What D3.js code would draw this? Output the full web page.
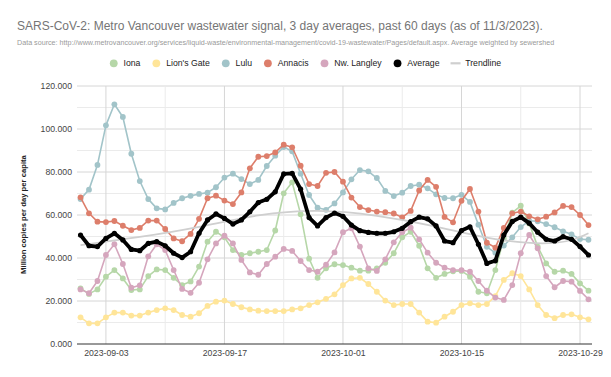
<!DOCTYPE html>
<html>
<head>
<meta charset="utf-8">
<script src="https://cdn.jsdelivr.net/npm/d3@7"></script>
<style>
  body { margin: 0; background: #fff; }
  text { font-family: "Liberation Sans", Arial, sans-serif; }
</style>
</head>
<body>
<div id="container"></div>
<script>
let w = 611;
let h = 377;

// data, one value per day from 2023-08-31 to 2023-10-30
let firstDay = "2023-08-31";
let lastDay = "2023-10-30";

let iona = [25.9, 23.3, 25.4, 31.3, 34.4, 30.5, 25.1, 25.4, 31.6, 34.7, 34.4, 30.8, 27.4, 29.1, 36.0,
  47.6, 52.2, 49.6, 43.7, 41.4, 42.2, 42.9, 43.7, 52.8, 70.1, 75.2, 60.4, 39.7, 30.8, 35.2, 37.1,
  36.7, 35.5, 34.1, 34.1, 35.2, 37.8, 42.2, 49.6, 52.2, 45.7, 35.2, 30.8, 32.6, 33.8, 34.0,
  31.3, 24.3, 23.6, 34.4, 49.1, 61.1, 64.3, 56.1, 45.3, 37.5, 33.6, 34.1, 32.6, 28.2, 24.8];

let lionsGate = [12.4, 9.6, 9.6, 12.4, 14.6, 14.6, 13.2, 13.2, 14.6, 15.8, 16.6, 15.8, 13.5, 12.7, 14.3,
  17.7, 19.7, 20.2, 18.6, 17.1, 16.1, 15.5, 15.3, 15.3, 15.3, 16.1, 16.6, 18.1, 19.4, 21.0, 23.1,
  27.4, 30.5, 30.8, 27.9, 24.3, 20.2, 18.1, 18.6, 18.6, 14.6, 10.4, 9.9, 12.7, 15.0, 18.1,
  18.9, 18.1, 18.6, 22.3, 29.8, 32.9, 31.6, 25.4, 18.1, 13.5, 12.0, 13.5, 13.8, 12.4, 11.5];

let lulu = [67.4, 71.8, 83.3, 101.7, 111.5, 105.6, 88.5, 75.8, 67.4, 63.1, 62.6, 65.6, 67.8, 68.9, 69.8,
  70.4, 72.9, 77.4, 79.2, 76.7, 74.4, 76.3, 82.8, 87.6, 91.6, 89.6, 79.2, 69.3, 63.4, 62.4, 65.4,
  70.5, 76.6, 80.9, 80.3, 77.2, 71.2, 68.8, 70.4, 73.5, 74.1, 72.4, 69.6, 67.9, 67.8, 69.4,
  66.1, 55.5, 45.2, 42.4, 45.8, 49.6, 54.4, 57.3, 57.1, 55.8, 54.3, 52.4, 51.0, 48.8, 48.5];

let annacis = [68.2, 60.8, 56.9, 56.7, 57.2, 55.0, 53.0, 54.0, 57.4, 57.4, 53.5, 49.1, 47.8, 51.2, 58.2,
  67.8, 69.0, 66.7, 65.1, 70.5, 81.7, 87.1, 87.4, 89.1, 92.7, 91.5, 82.9, 74.4, 73.5, 79.6, 80.0,
  75.5, 68.1, 63.7, 62.3, 61.6, 61.3, 60.7, 58.9, 61.9, 71.4, 76.3, 73.1, 59.1, 56.6, 66.6,
  72.1, 61.6, 47.1, 44.8, 54.0, 60.8, 61.6, 59.4, 58.0, 59.2, 61.2, 64.2, 63.7, 60.0, 55.3];

let nwLangley = [25.4, 23.6, 29.3, 41.4, 46.4, 37.2, 26.2, 27.3, 40.8, 46.4, 43.7, 34.4, 25.6, 23.8, 28.5,
  39.4, 46.8, 50.4, 46.8, 39.1, 33.3, 32.2, 37.2, 40.6, 44.2, 43.3, 38.6, 34.4, 33.6, 36.9, 42.6,
  52.0, 53.8, 45.3, 35.2, 34.0, 39.4, 47.3, 52.0, 54.1, 48.7, 42.5, 37.8, 35.5, 34.4, 34.4,
  33.6, 29.3, 24.8, 21.6, 20.5, 27.4, 42.2, 50.7, 44.5, 31.6, 26.4, 29.3, 29.0, 24.7, 20.8];

let average = [50.7, 45.7, 45.3, 49.1, 51.5, 48.4, 44.0, 43.4, 46.8, 47.6, 45.7, 42.2, 40.2, 42.9, 51.5,
  57.7, 60.5, 58.4, 55.8, 57.7, 61.5, 65.8, 67.3, 70.8, 79.1, 79.4, 72.0, 58.8, 54.9, 58.8, 60.9,
  59.4, 55.3, 52.7, 51.9, 51.5, 51.5, 52.2, 53.8, 56.9, 59.0, 58.2, 54.9, 47.9, 47.1, 52.8,
  54.5, 46.4, 37.5, 38.7, 50.7, 57.0, 59.0, 56.2, 52.0, 48.7, 47.9, 49.9, 48.7, 45.3, 41.4];

// trendline read at a few dates
let trendDays = ["2023-08-31", "2023-09-07", "2023-09-14", "2023-09-21", "2023-09-28", "2023-10-05",
  "2023-10-12", "2023-10-19", "2023-10-26", "2023-10-30"];
let trendValues = [46.0, 49.8, 54.5, 59.8, 61.9, 59.6, 54.6, 48.8, 47.0, 51.5];

let seriesNames = ["Iona", "Lion's Gate", "Lulu", "Annacis", "Nw. Langley", "Average"];
let seriesValues = [iona, lionsGate, lulu, annacis, nwLangley, average];
let seriesColors = ["#b6d7a8", "#ffe599", "#a2c4c9", "#dd7e6b", "#d5a6bd", "#000000"];

let yTicks = [0, 20, 40, 60, 80, 100, 120];
let xTickLabels = ["2023-09-03", "2023-09-17", "2023-10-01", "2023-10-15", "2023-10-29"];

let titleText = "SARS-CoV-2: Metro Vancouver wastewater signal, 3 day averages, past 60 days (as of 11/3/2023).";
let subtitleText = "Data source: http://www.metrovancouver.org/services/liquid-waste/environmental-management/covid-19-wastewater/Pages/default.aspx. Average weighted by sewershed";
let yTitle = "Million copies per day per capita";

let parseDay = d3.timeParse("%Y-%m-%d");
let days = d3.timeDay.range(parseDay(firstDay), d3.timeDay.offset(parseDay(lastDay), 1));

let plotLeft = 77, plotRight = 592, plotTop = 86, plotBottom = 344;

let viz = d3.select("#container")
  .append("svg")
    .attr("width", w)
    .attr("height", h)
    .style("background-color", "white")
;

let xScale = d3.scaleTime()
  .domain([d3.timeHour.offset(days[0], -10), d3.timeHour.offset(days[days.length - 1], 10)])
  .range([plotLeft, plotRight]);

let yScale = d3.scaleLinear().domain([0, 120]).range([plotBottom, plotTop]);

// grid
let minorY = d3.range(10, 120, 20);
viz.append("g").selectAll("line").data(minorY).enter().append("line")
  .attr("x1", plotLeft).attr("x2", plotRight)
  .attr("y1", d => yScale(d)).attr("y2", d => yScale(d))
  .attr("stroke", "#ebebeb").attr("stroke-width", 1);

viz.append("g").selectAll("line").data(yTicks.slice(1)).enter().append("line")
  .attr("x1", plotLeft).attr("x2", plotRight)
  .attr("y1", d => yScale(d)).attr("y2", d => yScale(d))
  .attr("stroke", "#d6d6d6").attr("stroke-width", 1);

let weekLines = d3.timeDay.range(parseDay("2023-09-03"), parseDay("2023-10-30"), 7);
viz.append("g").selectAll("line").data(weekLines).enter().append("line")
  .attr("x1", d => xScale(d)).attr("x2", d => xScale(d))
  .attr("y1", plotTop).attr("y2", plotBottom)
  .attr("stroke", (d, i) => i % 2 == 0 ? "#d6d6d6" : "#ebebeb")
  .attr("stroke-width", 1);

// axes
let yAxis = d3.axisLeft(yScale)
  .tickValues(yTicks)
  .tickFormat(d3.format(".3f"))
  .tickSize(0)
  .tickPadding(5);

let yg = viz.append("g").attr("transform", "translate(" + plotLeft + ",0)").call(yAxis);
yg.select(".domain").remove();
yg.selectAll("text").attr("fill", "#444").style("font-size", "8.7px").style("font-family", "Liberation Sans, Arial, sans-serif");

let xAxis = d3.axisBottom(xScale)
  .tickValues(xTickLabels.map(parseDay))
  .tickFormat(d3.timeFormat("%Y-%m-%d"))
  .tickSize(0)
  .tickPadding(6);

let xg = viz.append("g").attr("transform", "translate(0," + plotBottom + ")").call(xAxis);
xg.select(".domain").remove();
xg.selectAll("text").attr("fill", "#444").style("font-size", "8.7px").style("font-family", "Liberation Sans, Arial, sans-serif");

viz.append("line")
  .attr("x1", plotLeft).attr("x2", plotRight)
  .attr("y1", yScale(0)).attr("y2", yScale(0))
  .attr("stroke", "#333").attr("stroke-width", 1);

// series
let line = d3.line()
  .x((d, i) => xScale(days[i]))
  .y(d => yScale(d));

function drawSeries(values, color, width, r) {
  let g = viz.append("g");
  g.append("path")
    .datum(values)
    .attr("d", line)
    .attr("fill", "none")
    .attr("stroke", color)
    .attr("stroke-width", width)
    .attr("stroke-linejoin", "round");
  g.selectAll("circle").data(values).enter().append("circle")
    .attr("cx", (d, i) => xScale(days[i]))
    .attr("cy", d => yScale(d))
    .attr("r", r)
    .attr("fill", color);
}

for (let s = 0; s < 5; s++) {
  drawSeries(seriesValues[s], seriesColors[s], 1.6, 2.9);
}

let trendLine = d3.line()
  .x((d, i) => xScale(parseDay(trendDays[i])))
  .y(d => yScale(d))
  .curve(d3.curveNatural);

viz.append("path")
  .datum(trendValues)
  .attr("d", trendLine)
  .attr("fill", "none")
  .attr("stroke", "#cfcfcf")
  .attr("stroke-width", 1.8);

drawSeries(average, "#000000", 3.8, 2.6);

// titles
viz.append("text")
  .attr("x", 17).attr("y", 29.5)
  .text(titleText)
  .attr("fill", "#757575")
  .style("font-size", "12px");

let sub = viz.append("text")
  .attr("x", 17).attr("y", 44.6)
  .text(subtitleText)
  .attr("fill", "#9a9a9a")
  .style("font-size", "7px");
// squeeze the source line so it ends where the reference's does
let subWidth = sub.node().getComputedTextLength();
sub.style("font-size", Math.min(7.4, 7 * 538 / subWidth) + "px");

viz.append("text")
  .attr("transform", "translate(26," + ((plotTop + plotBottom) / 2 - 0.5) + ") rotate(-90)")
  .attr("text-anchor", "middle")
  .text(yTitle)
  .attr("fill", "#222")
  .style("font-weight", "bold")
  .style("font-size", "7.7px");

// legend, centred on the page
let legendItems = seriesNames.concat(["Trendline"]);
let legend = viz.append("g");
let lx = 0;
legendItems.forEach(function (name, i) {
  if (i < seriesNames.length) {
    legend.append("circle")
      .attr("cx", lx + 3.9).attr("cy", 63.3).attr("r", 3.9)
      .attr("fill", seriesColors[i]);
  } else {
    legend.append("line")
      .attr("x1", lx - 1).attr("x2", lx + 9)
      .attr("y1", 63.3).attr("y2", 63.3)
      .attr("stroke", "#cfcfcf").attr("stroke-width", 2.2);
  }
  let t = legend.append("text")
    .attr("x", lx + 13.7).attr("y", 66.4)
    .text(name)
    .attr("fill", "#222")
    .style("font-size", "8.7px");
  lx += 13.7 + t.node().getComputedTextLength();
  if (i < legendItems.length - 1) lx += 12;
});
legend.attr("transform", "translate(" + (w / 2 - lx / 2) + ",0)");
</script>
</body>
</html>
